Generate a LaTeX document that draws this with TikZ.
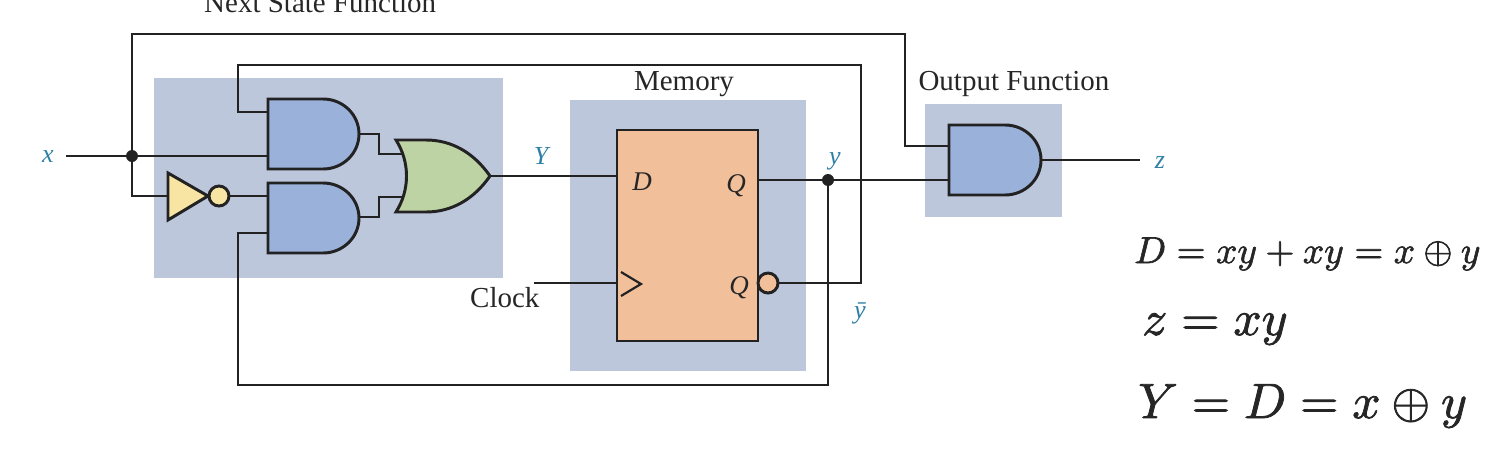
\documentclass[tikz,border=0pt]{standalone}
\usepackage{fontspec}
\setmainfont{Liberation Serif}
\usepackage{graphicx}
\definecolor{panel}{HTML}{BDC7DC}
\definecolor{andfill}{HTML}{9AB2DA}
\definecolor{orfill}{HTML}{BDD3A4}
\definecolor{invfill}{HTML}{F9E5A3}
\definecolor{fffill}{HTML}{F2BF9B}
\definecolor{sig}{HTML}{2F7FA6}
\definecolor{wirec}{HTML}{222222}
\newcommand{\heavy}[1]{\special{pdf:code q 2 Tr 0.16 w}#1\special{pdf:code Q}}
\tikzset{
  x=1pt,y=-1pt,
  panelbox/.style={fill=panel,draw=none,inner sep=0,outer sep=0,anchor=north west},
  wire/.style={draw=wirec,line width=2.95pt,line join=miter},
  gate/.style={draw=wirec,line width=2.95pt,line join=miter},
  bubble/.style={circle,draw=wirec,line width=2.95pt,inner sep=0,minimum size=20pt},
  dotnode/.style={circle,fill=wirec,inner sep=0,outer sep=0,minimum size=12pt},
  title/.style={font=\fontsize{29}{32}\selectfont,text=black!85,inner sep=0},
  sigl/.style={font=\fontsize{26}{30}\selectfont\itshape,text=sig,inner sep=0},
  inl/.style={font=\fontsize{27}{30}\selectfont\itshape,text=black!85,inner sep=0},
  eqn/.style={inner sep=0,anchor=base west,text=black!85}
}
\begin{document}
\begin{tikzpicture}
\useasboundingbox (0,0) rectangle (1510,466);
\clip (0,0) rectangle (1510,466);
% panels
\node[panelbox,minimum width=349pt,minimum height=200pt] (pNext) at (154,78) {};
\node[panelbox,minimum width=236pt,minimum height=271pt] (pMem) at (570,100) {};
\node[panelbox,minimum width=137pt,minimum height=113pt] (pOut) at (925,104) {};
% pins
\coordinate (xIn) at (66,156);
\coordinate (topL) at (132,34);
\coordinate (topR) at (905,34);
\coordinate (a3i1c) at (905,146);
\coordinate (a3i1) at (949,146);
\coordinate (a3i2) at (949,180);
\coordinate (a3o) at (1041,160);
\coordinate (zOut) at (1140,160);
\coordinate (a1i1) at (268,112);
\coordinate (a1i2) at (268,156);
\coordinate (a1o) at (359,134);
\coordinate (a2i1) at (268,196);
\coordinate (a2i2) at (268,233);
\coordinate (a2o) at (359,217);
\coordinate (oi1) at (403,154);
\coordinate (oi2) at (403,197);
\coordinate (oo) at (490,176);
\coordinate (invIn) at (168,196);
\coordinate (ffD) at (617,176);
\coordinate (ffClk) at (617,283);
\coordinate (clkIn) at (534,283);
\coordinate (ffQ) at (758,180);
\coordinate (fb1) at (238,65);
\coordinate (fb2) at (861,65);
\coordinate (fb3) at (861,283);
\coordinate (fb4) at (828,385);
\coordinate (fb5) at (238,385);
\node[dotnode] (jx) at (132,156) {};
\node[dotnode] (jy) at (828,180) {};
% wires
\draw[wire] (xIn) -- (jx.center) -- (a1i2);
\draw[wire] (invIn) -| (jx.center);
\draw[wire] (jx.center) -- (topL) -- (topR) -- (a3i1c) -- (a3i1);
\draw[wire] (a1i1) -| (fb1) -- (fb2) -- (fb3) -- (768,283);
\draw[wire] (jy.center) -- (fb4) -- (fb5) |- (a2i2);
\draw[wire] (ffQ) -- (jy.center) -- (a3i2);
\draw[wire] (a3o) -- (zOut);
\draw[wire] (a1o) -- (379,134) |- (oi1);
\draw[wire] (a2o) -- (379,217) |- (oi2);
\draw[wire] (oo) -- (ffD);
\draw[wire] (clkIn) -- (ffClk);
\draw[wire] (210,196) -- (a2i1);
% gates
\draw[gate,fill=andfill] (268,99) -- (323,99) .. controls (343,99) and (359,114.7) .. (359,134) .. controls (359,153.3) and (343,169) .. (323,169) -- (268,169) -- cycle;
\draw[gate,fill=andfill] (268,183) -- (323,183) .. controls (343,183) and (359,198.7) .. (359,218) .. controls (359,237.3) and (343,253) .. (323,253) -- (268,253) -- cycle;
\draw[gate,fill=andfill] (949,125) -- (1005,125) .. controls (1025,125) and (1041,140.7) .. (1041,160) .. controls (1041,179.3) and (1025,195) .. (1005,195) -- (949,195) -- cycle;
\draw[gate,fill=orfill] (396,140) -- (426,140) .. controls (452,140) and (474,153) .. (490,176)
  .. controls (474,199) and (452,212) .. (426,212) -- (396,212)
  .. controls (410,190) and (410,162) .. (396,140) -- cycle;
\draw[gate,fill=invfill] (168,173) -- (208,196) -- (168,220) -- cycle;
\node[bubble,fill=invfill] (inv) at (219,196) {};
% flip-flop
\node[panelbox,fill=fffill,draw=wirec,line width=2.95pt,minimum width=141pt,minimum height=211pt] (ff) at (617,130) {};
\draw[wire,line width=2.2pt] (621,272) -- (641,284) -- (621,296);
\node[bubble,fill=fffill] (qb) at (768,283) {};
% labels
\node[title,anchor=base west] (tNext) at (204,12) {Next State Function};
\node[title,anchor=base] (tMem) at (684,90) {Memory};
\node[title,anchor=base] (tOut) at (1014,90) {Output Function};
\node[title,anchor=base west] (tClk) at (470,307) {Clock};
\node[sigl,anchor=base] (lx) at (48,162) {x};
\node[sigl,anchor=base] (lY) at (541,164) {Y};
\node[sigl,anchor=base] (ly) at (835,164) {y};
\node[sigl,anchor=base] (lyb) at (860,318) {ȳ};
\node[sigl,anchor=base] (lz) at (1160,168) {z};
\node[inl,anchor=base] (lD) at (642,190) {D};
\node[inl,anchor=base] (lQ) at (736,192) {Q};
\node[inl,anchor=base] (lQb) at (739,294) {Q};
% equations
\node[eqn] (e1) at (1134,263) {\scalebox{3.74}{\heavy{$D=xy+xy=x\oplus y$}}};
\node[eqn] (e2) at (1142,335) {\scalebox{4.95}{\heavy{$z=xy$}}};
\node[eqn] (e3) at (1138,418) {\scalebox{4.95}{\heavy{$Y=D=x\oplus y$}}};
\end{tikzpicture}
\end{document}
